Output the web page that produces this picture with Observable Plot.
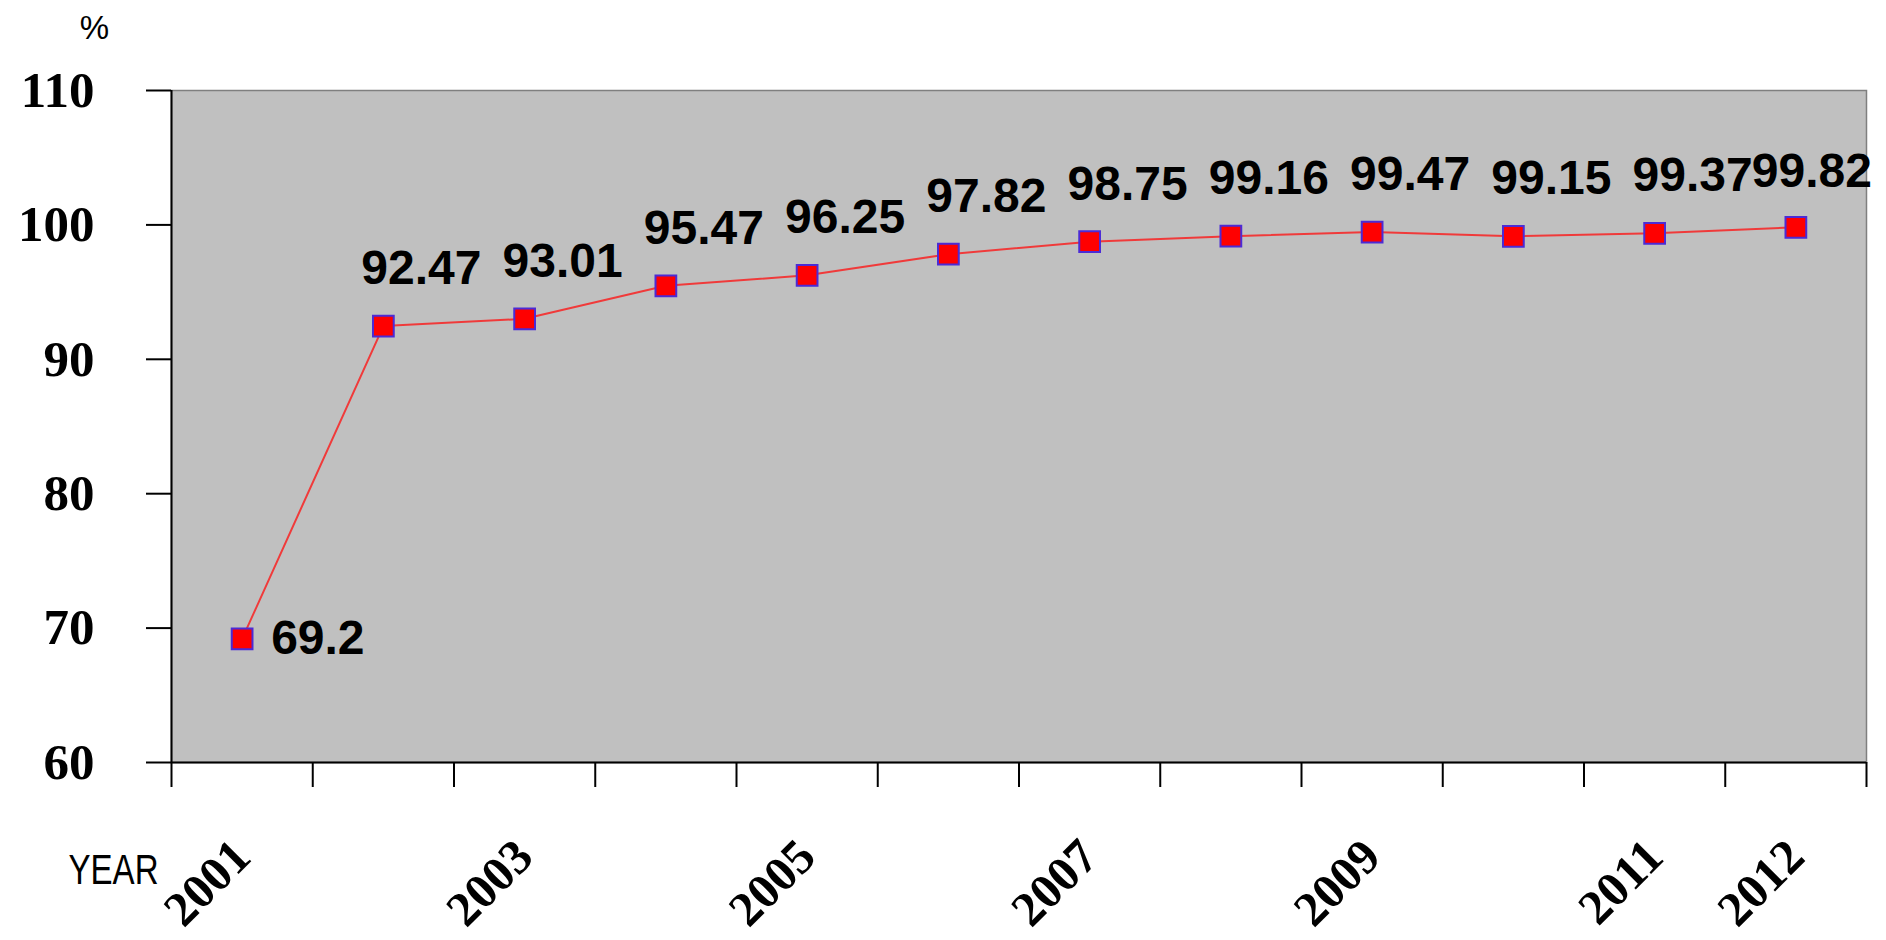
<!DOCTYPE html>
<html>
<head>
<meta charset="utf-8">
<script src="https://cdn.jsdelivr.net/npm/d3@7"></script>
<script src="https://cdn.jsdelivr.net/npm/@observablehq/plot@0.6"></script>
<style>
  html, body { margin: 0; padding: 0; background: #fff; }
  #chart svg { display: block; }
</style>
</head>
<body>
<div id="chart"></div>
<script>
const years = [2001, 2002, 2003, 2004, 2005, 2006, 2007, 2008, 2009, 2010, 2011, 2012];
const values = [69.2, 92.47, 93.01, 95.47, 96.25, 97.82, 98.75, 99.16, 99.47, 99.15, 99.37, 99.82];
const yearTickLabels = [2001, 2003, 2005, 2007, 2009, 2011, 2012];
const yTicks = [60, 70, 80, 90, 100, 110];
const yUnit = "%";
const xTitle = "YEAR";

const table = years.map((year, i) => ({year, value: values[i], label: String(values[i])}));
const n = table.length;
const bandEdges = d3.range(years[0] - 0.5, years[n - 1] + 1, 1);

const sans = "Liberation Sans, Arial, sans-serif";
const serif = "Liberation Serif, Times New Roman, serif";
const labelStyle = {fontSize: 48, fontFamily: sans, fontWeight: "bold", fill: "#000"};

const chart = Plot.plot({
  width: 1886,
  height: 940,
  marginLeft: 171,
  marginRight: 20,
  marginTop: 90,
  marginBottom: 178,
  style: {background: "#ffffff", color: "#000000"},
  x: {type: "linear", domain: [years[0] - 0.5, years[n - 1] + 0.5]},
  y: {domain: [60, 110]},
  marks: [
    Plot.frame({fill: "#c0c0c0", stroke: "#7f7f7f", strokeWidth: 1.5}),
    Plot.ruleX([years[0] - 0.5], {stroke: "#000", strokeWidth: 2}),
    Plot.ruleY([60], {stroke: "#000", strokeWidth: 2}),
    Plot.axisY({ticks: yTicks, tickSize: 25, tickPadding: 52, strokeWidth: 2, label: null,
      fontSize: 51, fontFamily: serif, fontWeight: "bold"}),
    Plot.axisX({ticks: bandEdges, tickSize: 25, strokeWidth: 2, tickFormat: () => "", label: null}),
    Plot.text(yearTickLabels, {x: d => d, frameAnchor: "bottom", text: d => String(d),
      rotate: -45, textAnchor: "end", lineAnchor: "bottom", dx: 11, dy: 97,
      fontSize: 49, fontFamily: serif, fontWeight: "bold", fill: "#000"}),
    Plot.line(table, {x: "year", y: "value", stroke: "#f03a3a", strokeWidth: 2}),
    Plot.dot(table, {x: "year", y: "value", symbol: "square", r: 11.7,
      fill: "#ff0000", stroke: "#4b2bd6", strokeWidth: 2}),
    Plot.text(table.slice(0, 1), {x: "year", y: "value", text: "label",
      textAnchor: "start", lineAnchor: "middle", dx: 29, ...labelStyle}),
    Plot.text(table.slice(1, n - 1), {x: "year", y: "value", text: "label",
      textAnchor: "middle", lineAnchor: "bottom", dx: 38, dy: -42, ...labelStyle}),
    Plot.text(table.slice(n - 1), {x: "year", y: "value", text: "label",
      textAnchor: "middle", lineAnchor: "bottom", dx: 16, dy: -40, ...labelStyle}),
    Plot.text([yUnit], {frameAnchor: "top-left", text: d => d, textAnchor: "middle",
      lineAnchor: "bottom", dx: -77, dy: -52, fontSize: 33, fontFamily: sans, fill: "#000"}),
    Plot.text([xTitle], {frameAnchor: "bottom-left", text: d => d, textAnchor: "start",
      lineAnchor: "bottom", dx: -103, dy: 121, fontSize: 42, fontFamily: sans, fill: "#000",
      className: "xtitle"})
  ]
});

document.getElementById("chart").appendChild(chart);
d3.select(chart).selectAll(".xtitle text")
  .attr("textLength", 90)
  .attr("lengthAdjust", "spacingAndGlyphs");
</script>
</body>
</html>
